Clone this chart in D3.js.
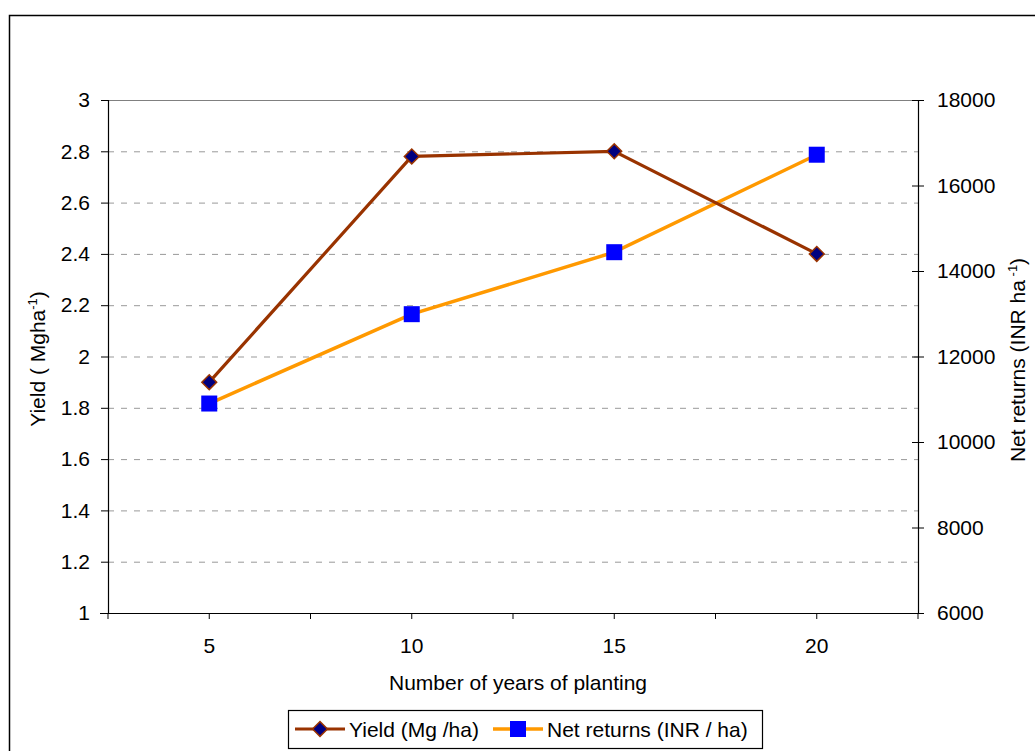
<!DOCTYPE html>
<html><head><meta charset="utf-8">
<script src="https://cdn.jsdelivr.net/npm/d3@7"></script>
<style>
body{margin:0;background:#fff}
text{font-family:"Liberation Sans",Arial,sans-serif;fill:#000}
</style>
</head><body>
<svg id="c" width="1035" height="751"></svg>
<script>
const years = ["5", "10", "15", "20"];
const yieldVals = [1.90, 2.78, 2.80, 2.40];
const netReturns = [10900, 12990, 14440, 16720];
const yieldTicks = [1, 1.2, 1.4, 1.6, 1.8, 2, 2.2, 2.4, 2.6, 2.8, 3];
const netTicks = [6000, 8000, 10000, 12000, 14000, 16000, 18000];
const xTitle = "Number of years of planting";
const legendLabels = ["Yield (Mg /ha)", "Net returns (INR / ha)"];

const svg = d3.select("#c");
const L = 108, R = 918, T = 100, B = 613;
const FS = 21;

// outer border
svg.append("rect").attr("x", 9.5).attr("y", 15.5).attr("width", 1100).attr("height", 800)
  .attr("fill", "#fff").attr("stroke", "#000").attr("stroke-width", 1.5);

const x = d3.scaleBand().domain(years).range([L, R]).padding(0);
const yL = d3.scaleLinear().domain([1, 3]).range([B, T]);
const yR = d3.scaleLinear().domain([6000, 18000]).range([B, T]);

// gridlines
svg.append("g").selectAll("line").data(yieldTicks.filter(d => d > 1 && d < 3)).join("line")
  .attr("x1", L).attr("x2", R).attr("y1", d => yL(d) + 0.5).attr("y2", d => yL(d) + 0.5)
  .attr("stroke", "#999").attr("stroke-width", 1).attr("stroke-dasharray", "6,7");
// top border of plot area
svg.append("line").attr("x1", L).attr("x2", R).attr("y1", T + 0.5).attr("y2", T + 0.5)
  .attr("stroke", "#808080").attr("stroke-width", 1.2);

// left axis
const axL = svg.append("g").attr("transform", `translate(${L},0)`)
  .call(d3.axisLeft(yL).tickValues(yieldTicks).tickSize(7).tickPadding(11).tickFormat(d3.format("")));
axL.selectAll("text").style("font-size", FS + "px");
axL.select(".domain").attr("stroke", "#000").attr("stroke-width", 1.2);

// right axis
const axR = svg.append("g").attr("transform", `translate(${R},0)`)
  .call(d3.axisRight(yR).tickValues(netTicks).tickSize(6).tickPadding(13).tickFormat(d3.format("d")));
axR.selectAll("text").style("font-size", FS + "px");
axR.select(".domain").attr("stroke", "#000").attr("stroke-width", 1.2);
axR.selectAll(".tick line").attr("x1", -6);

// bottom axis
const axB = svg.append("g").attr("transform", `translate(0,${B})`)
  .call(d3.axisBottom(x).tickSize(0).tickPadding(25));
axB.selectAll("text").style("font-size", FS + "px");
axB.select(".domain").remove();
svg.append("line").attr("x1", L - 8).attr("x2", R + 6).attr("y1", B + 0.5).attr("y2", B + 0.5)
  .attr("stroke", "#000").attr("stroke-width", 1.2);
const tickPos = [];
years.forEach(c => { tickPos.push(x(c)); tickPos.push(x(c) + x.bandwidth() / 2); });
tickPos.push(R);
svg.append("g").selectAll("line").data(tickPos).join("line")
  .attr("x1", d => d).attr("x2", d => d).attr("y1", B).attr("y2", B + 6)
  .attr("stroke", "#000").attr("stroke-width", 1);

// titles
svg.append("text").attr("x", (L + R) / 2 + 5).attr("y", 690).attr("text-anchor", "middle")
  .style("font-size", FS + "px").text(xTitle);

const lt = svg.append("text").attr("transform", "translate(45,359) rotate(-90)")
  .attr("text-anchor", "middle").style("font-size", FS + "px");
lt.append("tspan").text("Yield ( Mgha");
lt.append("tspan").attr("dy", -8).style("font-size", "13px").text("-1");
lt.append("tspan").attr("dy", 8).text(")");

const rt = svg.append("text").attr("transform", "translate(1025,360) rotate(-90)")
  .attr("text-anchor", "middle").style("font-size", FS + "px");
rt.append("tspan").text("Net returns (INR ha");
rt.append("tspan").attr("dy", -8).style("font-size", "13px").text(" -1");
rt.append("tspan").attr("dy", 8).text(")");

// series
const cx = c => x(c) + x.bandwidth() / 2;
const diamondPath = d3.symbol().type(d3.symbolSquare).size(110)();

svg.append("path").datum(years.map((c, i) => [cx(c), yR(netReturns[i])]))
  .attr("d", d3.line()).attr("fill", "none").attr("stroke", "#FF9900").attr("stroke-width", 3.5);
svg.append("path").datum(years.map((c, i) => [cx(c), yL(yieldVals[i])]))
  .attr("d", d3.line()).attr("fill", "none").attr("stroke", "#993300").attr("stroke-width", 3.2);

svg.append("g").selectAll("rect").data(years).join("rect")
  .attr("x", c => cx(c) - 8).attr("y", (c, i) => yR(netReturns[i]) - 8)
  .attr("width", 16).attr("height", 16).attr("fill", "#0000FF");
svg.append("g").selectAll("path").data(years).join("path")
  .attr("d", diamondPath)
  .attr("transform", (c, i) => `translate(${cx(c)},${yL(yieldVals[i])}) rotate(45)`)
  .attr("fill", "#000080").attr("stroke", "#993300").attr("stroke-width", 1.5);

// legend
const lg = svg.append("g");
lg.append("rect").attr("x", 288.5).attr("y", 710.5).attr("width", 474).attr("height", 38)
  .attr("fill", "#fff").attr("stroke", "#000").attr("stroke-width", 1.2);
const ly = 729;
lg.append("line").attr("x1", 295).attr("x2", 345).attr("y1", ly).attr("y2", ly)
  .attr("stroke", "#993300").attr("stroke-width", 3.2);
lg.append("path").attr("d", diamondPath)
  .attr("transform", `translate(320,${ly}) rotate(45)`)
  .attr("fill", "#000080").attr("stroke", "#993300").attr("stroke-width", 1.5);
lg.append("text").attr("x", 349).attr("y", ly + 7.5).style("font-size", FS + "px").text(legendLabels[0]);
lg.append("line").attr("x1", 493).attr("x2", 543).attr("y1", ly).attr("y2", ly)
  .attr("stroke", "#FF9900").attr("stroke-width", 3.5);
lg.append("rect").attr("x", 510).attr("y", ly - 8).attr("width", 16).attr("height", 16).attr("fill", "#0000FF");
lg.append("text").attr("x", 547).attr("y", ly + 7.5).style("font-size", FS + "px").text(legendLabels[1]);
</script>
</body></html>
